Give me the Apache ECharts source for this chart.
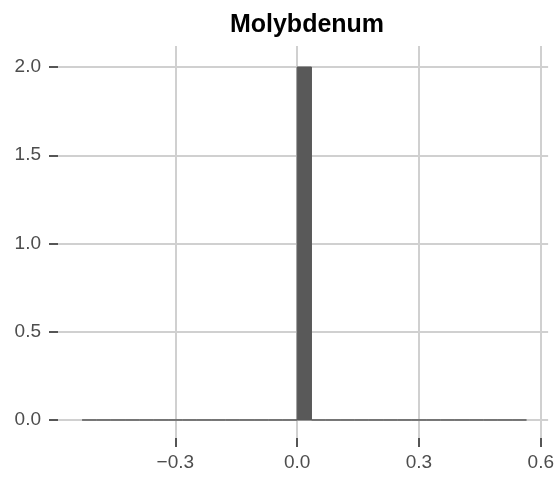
<!DOCTYPE html>
<html><head><meta charset="utf-8">
<script src="https://cdn.jsdelivr.net/npm/echarts@6/dist/echarts.min.js"></script>
<style>html,body{margin:0;padding:0;background:#fff}#c{width:557px;height:477px}</style>
</head><body><div id="c"></div>
<script>
const titleText = 'Molybdenum';
const binEdges = [-0.5295, -0.4942, -0.4589, -0.4236, -0.3883, -0.3530, -0.3177, -0.2824,
  -0.2471, -0.2118, -0.1765, -0.1412, -0.1059, -0.0706, -0.0353, 0, 0.0353, 0.0706,
  0.1059, 0.1412, 0.1765, 0.2118, 0.2471, 0.2824, 0.3177, 0.3530, 0.3883, 0.4236,
  0.4589, 0.4942, 0.5295, 0.5648];
const binCounts = [0,0,0,0,0,0,0,0,0,0,0,0,0,0,0,2,0,0,0,0,0,0,0,0,0,0,0,0,0,0,0];
const xTicks = [-0.3, 0, 0.3, 0.6];
const yTicks = [0, 0.5, 1.0, 1.5, 2.0];

const data = binCounts.map((c, i) => [binEdges[i], binEdges[i + 1], c]);
const fmt = v => (v < 0 ? '\u2212' : '') + Math.abs(v).toFixed(1);
const labelStyle = { fontFamily: 'Liberation Sans, Arial, sans-serif', fontSize: 19, color: '#4d4d4d' };

const chart = echarts.init(document.getElementById('c'), null, { renderer: 'canvas' });
chart.setOption({
  animation: false,
  title: { text: titleText, left: 302, textAlign: 'center', top: 8,
    textStyle: { fontFamily: 'Liberation Sans, Arial, sans-serif', fontSize: 25, fontWeight: 'bold', color: '#000' } },
  grid: { left: 49, right: 7, top: 46, bottom: 30, containLabel: false },
  xAxis: {
    type: 'value', min: -0.611, max: 0.618,
    axisLine: { show: false, onZero: false },
    axisTick: { show: true, inside: true, length: 9, customValues: xTicks, lineStyle: { color: '#555', width: 2 } },
    axisLabel: { ...labelStyle, margin: 6, customValues: xTicks, formatter: fmt, showMinLabel: true, showMaxLabel: true },
    splitLine: { show: true, lineStyle: { color: '#d0d0d0', width: 2 } }
  },
  yAxis: {
    type: 'value', min: -0.153, max: 2.119,
    axisLine: { show: false, onZero: false },
    axisTick: { show: true, inside: true, length: 9, customValues: yTicks, lineStyle: { color: '#555', width: 2 } },
    axisLabel: { ...labelStyle, margin: 8, customValues: yTicks, formatter: fmt },
    splitLine: { show: true, lineStyle: { color: '#d0d0d0', width: 2 } }
  },
  series: [{
    type: 'custom',
    data: data,
    encode: { x: [0, 1], y: 2 },
    renderItem: function (params, api) {
      const p0 = api.coord([api.value(0), api.value(2)]);
      const p1 = api.coord([api.value(1), 0]);
      return {
        type: 'rect',
        shape: { x: p0[0], y: p0[1], width: p1[0] - p0[0], height: p1[1] - p0[1] },
        style: { fill: '#595959', stroke: '#595959', lineWidth: 1 }
      };
    }
  }]
});
</script>
</body></html>
